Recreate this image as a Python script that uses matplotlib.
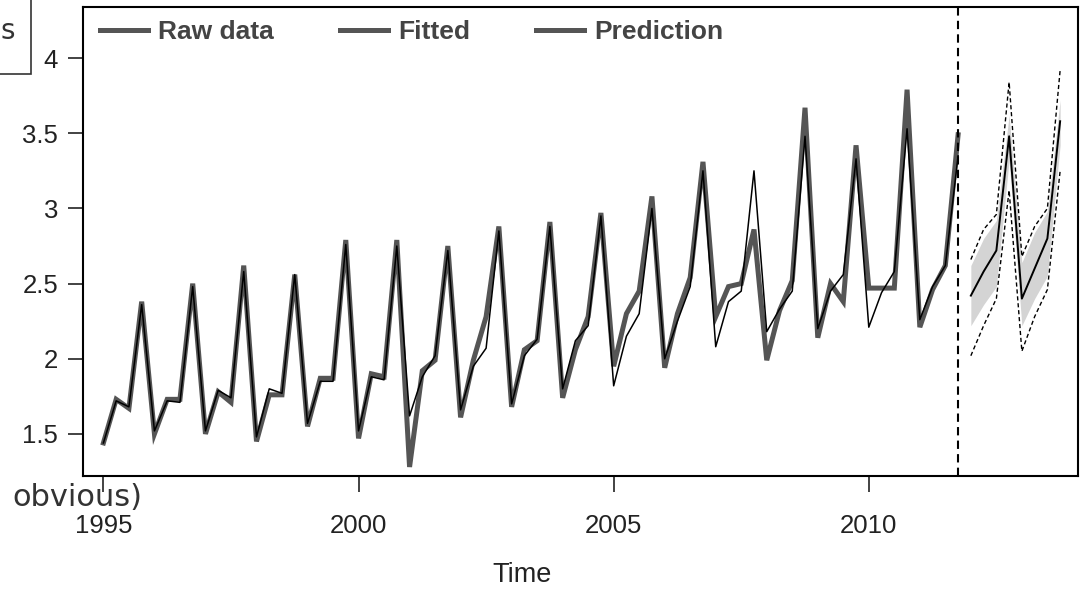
import matplotlib.pyplot as plt
import numpy as np
from matplotlib.lines import Line2D
from matplotlib.patches import Rectangle
from matplotlib.ticker import FuncFormatter

# quarterly series, 1995Q1 .. 2011Q4
raw = [1.44, 1.73, 1.67, 2.38,
       1.50, 1.73, 1.73, 2.50,
       1.50, 1.78, 1.71, 2.62,
       1.45, 1.76, 1.76, 2.56,
       1.55, 1.87, 1.87, 2.79,
       1.47, 1.90, 1.88, 2.79,
       1.28, 1.92, 1.99, 2.75,
       1.61, 1.99, 2.28, 2.88,
       1.68, 2.06, 2.12, 2.91,
       1.74, 2.06, 2.28, 2.97,
       1.95, 2.30, 2.45, 3.08,
       1.94, 2.30, 2.54, 3.31,
       2.28, 2.48, 2.50, 2.86,
       1.99, 2.32, 2.52, 3.67,
       2.14, 2.50, 2.38, 3.42,
       2.47, 2.47, 2.47, 3.79,
       2.21, 2.46, 2.62, 3.49]

fitted = [1.44, 1.72, 1.68, 2.36,
          1.52, 1.72, 1.71, 2.48,
          1.52, 1.79, 1.74, 2.58,
          1.48, 1.80, 1.77, 2.56,
          1.57, 1.85, 1.85, 2.76,
          1.52, 1.88, 1.86, 2.75,
          1.62, 1.88, 2.02, 2.72,
          1.66, 1.95, 2.07, 2.85,
          1.70, 2.02, 2.13, 2.88,
          1.80, 2.12, 2.22, 2.95,
          1.82, 2.15, 2.30, 3.00,
          2.00, 2.25, 2.48, 3.25,
          2.08, 2.38, 2.45, 3.25,
          2.18, 2.33, 2.45, 3.48,
          2.20, 2.45, 2.56, 3.33,
          2.21, 2.44, 2.58, 3.53,
          2.26, 2.48, 2.62, 3.35]

# forecast 2012Q1 .. 2013Q4
pred_mid = [2.42, 2.58, 2.72, 3.48, 2.40, 2.60, 2.80, 3.58]
pred_hi95 = [2.66, 2.86, 2.96, 3.84, 2.68, 2.88, 3.00, 3.92]
pred_lo95 = [2.02, 2.22, 2.40, 3.12, 2.05, 2.28, 2.46, 3.25]
pred_hi80 = [2.62, 2.80, 2.92, 3.62, 2.64, 2.84, 2.98, 3.72]
pred_lo80 = [2.22, 2.36, 2.48, 3.32, 2.22, 2.40, 2.55, 3.42]

t_obs = 1995 + np.arange(len(raw)) / 4
t_pred = 2012 + np.arange(len(pred_mid)) / 4
cut = 2011.75

plt.rcParams['font.family'] = ['Liberation Sans', 'DejaVu Sans']

W, H = 1090, 591
fig = plt.figure(figsize=(W / 100, H / 100), dpi=100)
ax = fig.add_axes([83 / W, 1 - 476 / H, (1078 - 83) / W, (476 - 7) / H])

ax.fill_between(t_pred, pred_lo80, pred_hi80, color='#d4d4d4', lw=0)
ax.plot(t_obs, raw, color='#555555', lw=3.6, solid_joinstyle='miter')
ax.plot(t_obs, fitted, color='black', lw=1.1)
ax.plot(t_pred, pred_mid, color='black', lw=1.4)
ax.plot(t_pred, pred_hi95, color='black', lw=1.0, ls=(0, (3, 2)))
ax.plot(t_pred, pred_lo95, color='black', lw=1.0, ls=(0, (3, 2)))
ax.axvline(cut, color='black', lw=1.5, ls=(0, (4, 2.5)))

ax.set_xlim(1994.6, 2014.1)
ax.set_ylim(1.22, 4.34)
ax.set_xticks([1995, 2000, 2005, 2010])
ax.set_yticks([1.5, 2, 2.5, 3, 3.5, 4])
ax.yaxis.set_major_formatter(FuncFormatter(lambda v, p: '%g' % v))
ax.tick_params(axis='x', length=11.5, width=1.2, pad=16, labelsize=18.5, colors='#222222')
ax.tick_params(axis='y', length=11, width=1.2, pad=7, labelsize=18.5, colors='#222222')
for s in ax.spines.values():
    s.set_linewidth(1.5)

fig.text(522 / W, 1 - 575 / H, 'Time', fontsize=19.5, color='#222222',
         ha='center', va='center')

handles = [Line2D([], [], color='#555555', lw=3.6) for _ in range(3)]
leg = fig.legend(handles, ['Raw data', 'Fitted', 'Prediction'], ncol=3,
                 loc='upper left', bbox_to_anchor=(100 / W, 1 - 20 / H),
                 frameon=False, borderpad=0, borderaxespad=0,
                 handlelength=1.82, handletextpad=0.38, columnspacing=2.5,
                 prop={'size': 19, 'weight': 'bold'})
for txt in leg.get_texts():
    txt.set_color('#444444')

# pieces of overlaid text at the left edge of the screenshot
fig.patches.append(Rectangle((-5 / W, 1 - 74 / H), 36 / W, 80 / H,
                             transform=fig.transFigure, fill=False,
                             ec='#333333', lw=1.2))
fig.text(1 / W, 1 - 31 / H, 's', fontsize=20, family='DejaVu Sans',
         color='#333333', va='center')
fig.text(12 / W, 1 - 497 / H, 'obvious)', fontsize=22, family='DejaVu Sans',
         color='#333333', va='center')

fig.savefig('out.png', dpi=100)
